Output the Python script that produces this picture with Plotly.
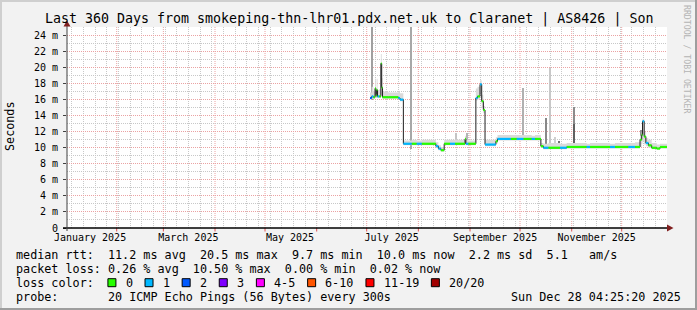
import plotly.graph_objects as go
import pandas as pd

# ---------------- data ----------------
TITLE = "Last 360 Days from smokeping-thn-lhr01.pdx.net.uk to Claranet | AS8426 | Son"
Y_TITLE = "Seconds"
SIDE_TEXT = "RRDTOOL / TOBI OETIKER"
START = "2025-01-02 04:25:20"
END = "2025-12-28 04:25:20"
Y_MAX = 25.05

MONTH_LABEL_DATES = ["2025-01-16", "2025-03-16", "2025-05-16", "2025-07-16", "2025-09-16", "2025-11-16"]
MONTH_LABELS = ["January 2025", "March 2025", "May 2025", "July 2025", "September 2025", "November 2025"]
MONTH_STARTS = ["2025-02-01", "2025-03-01", "2025-04-01", "2025-05-01", "2025-06-01", "2025-07-01",
                "2025-08-01", "2025-09-01", "2025-10-01", "2025-11-01", "2025-12-01"]
Y_TICKS = [0, 2, 4, 6, 8, 10, 12, 14, 16, 18, 20, 22, 24]
Y_TICK_TEXT = ["0", "2 m", "4 m", "6 m", "8 m", "10 m", "12 m", "14 m", "16 m", "18 m", "20 m", "22 m", "24 m"]
Y_MINOR = [1, 3, 5, 7, 9, 11, 13, 15, 17, 19, 21, 23, 25]

# median rtt (ms) step points, loss bucket index, smoke band (ms)
MED_TIMES = [
    "2025-07-03 00:00", "2025-07-04 00:00", "2025-07-05 00:00", "2025-07-06 00:00", "2025-07-06 12:00",
    "2025-07-07 00:00", "2025-07-07 12:00", "2025-07-08 12:00", "2025-07-09 12:00", "2025-07-10 00:00",
    "2025-07-10 12:00", "2025-07-14 00:00", "2025-07-20 00:00", "2025-07-21 00:00", "2025-07-23 00:00",
    "2025-07-28 00:00", "2025-07-31 00:00", "2025-08-03 00:00", "2025-08-11 12:00", "2025-08-13 00:00",
    "2025-08-14 12:00", "2025-08-16 12:00", "2025-08-20 00:00", "2025-08-23 00:00", "2025-08-29 00:00",
    "2025-08-29 12:00", "2025-08-31 00:00", "2025-09-04 12:00", "2025-09-05 12:00", "2025-09-07 00:00",
    "2025-09-08 00:00", "2025-09-09 00:00", "2025-09-10 00:00", "2025-09-16 12:00", "2025-09-17 12:00",
    "2025-09-25 12:00", "2025-09-29 00:00", "2025-10-03 00:00", "2025-10-08 00:00", "2025-10-10 00:00",
    "2025-10-13 12:00", "2025-10-15 00:00", "2025-10-18 00:00", "2025-10-25 00:00", "2025-10-29 00:00",
    "2025-11-10 00:00", "2025-11-12 00:00", "2025-11-24 00:00", "2025-11-27 00:00", "2025-12-05 00:00",
    "2025-12-09 00:00", "2025-12-12 00:00", "2025-12-13 00:00", "2025-12-13 12:00", "2025-12-14 12:00",
    "2025-12-15 12:00", "2025-12-17 00:00", "2025-12-19 00:00", "2025-12-22 00:00", "2025-12-24 00:00",
    "2025-12-28 04:25",
]
MED_VALUES = [
    16.2, 16.4, 16.3, 17.4, 16.5,
    17.2, 16.4, 16.4, 20.5, 17.5,
    16.3, 16.3, 16.2, 16.0, 10.5,
    10.5, 10.5, 10.5, 10.2, 9.9,
    9.7, 10.5, 10.5, 10.5, 11.1,
    10.5, 10.5, 16.2, 16.4, 17.9,
    15.8, 14.7, 10.4, 10.8, 11.1,
    11.1, 11.1, 11.1, 11.1, 11.1,
    10.2, 10.0, 10.0, 10.0, 10.1,
    10.1, 10.1, 10.1, 10.1, 10.1,
    10.1, 11.0, 11.6, 13.3, 11.4,
    10.6, 10.3, 10.0, 9.9, 10.1,
    10.0,
]
MED_LOSS = [
    2, 1, 0, 0, 0,
    0, 1, 0, 0, 0,
    0, 0, 1, 1, 1,
    0, 1, 0, 1, 1,
    0, 0, 1, 0, 0,
    1, 0, 1, 0, 1,
    0, 0, 1, 0, 1,
    0, 1, 0, 1, 0,
    0, 1, 0, 1, 0,
    1, 0, 1, 0, 1,
    0, 0, 0, 1, 0,
    1, 0, 0, 0, 0,
    0,
]
SMOKE_LO = [
    16.0, 16.1, 16.1, 16.2, 16.2,
    16.2, 16.2, 16.2, 16.6, 16.5,
    16.1, 16.1, 16.0, 15.8, 10.3,
    10.3, 10.3, 10.3, 10.0, 9.7,
    9.5, 10.3, 10.3, 10.3, 10.4,
    10.3, 10.3, 15.9, 16.0, 16.8,
    15.0, 14.3, 10.2, 10.5, 10.9,
    10.9, 10.9, 10.9, 10.9, 10.9,
    10.0, 9.8, 9.8, 9.8, 9.9,
    9.9, 9.9, 9.9, 9.9, 9.9,
    9.9, 10.1, 10.5, 10.8, 10.4,
    10.2, 10.0, 9.8, 9.8, 9.9,
    9.9,
]
SMOKE_HI = [
    16.9, 17.6, 17.0, 18.6, 17.4,
    18.6, 17.2, 17.3, 21.7, 18.7,
    17.0, 16.9, 17.0, 16.8, 10.9,
    11.0, 10.9, 11.0, 10.7, 10.3,
    10.1, 11.0, 11.0, 11.0, 11.5,
    11.0, 10.9, 17.4, 17.6, 18.4,
    16.6, 15.2, 11.0, 11.3, 11.6,
    11.6, 11.6, 11.6, 11.5, 11.6,
    10.6, 10.5, 10.6, 10.5, 10.6,
    10.5, 10.6, 10.5, 10.6, 10.6,
    10.7, 11.5, 12.0, 13.6, 12.0,
    11.2, 11.0, 10.6, 10.4, 10.5,
    10.4,
]

# isolated smoke spikes (ms)
SPIKE_TIMES = ["2025-07-04 04:00", "2025-07-27 14:00", "2025-08-23 14:00", "2025-08-30 00:00",
               "2025-10-02 14:00", "2025-10-16 14:00", "2025-10-19 00:00", "2025-10-22 00:00",
               "2025-10-24 14:00", "2025-11-02 14:00", "2025-11-02 14:00", "2025-12-12 12:00"]
SPIKE_LO = [16.0, 9.9, 10.5, 10.5, 11.1, 10.0, 10.0, 10.0, 10.0, 10.0, 10.0, 10.5]
SPIKE_HI = [25.05, 25.05, 11.9, 11.9, 17.5, 13.7, 19.9, 11.4, 10.9, 15.1, 13.0, 12.2]

LOSS_LABELS = ["0", "1", "2", "3", "4-5", "6-10", "11-19", "20/20"]

STAT_RTT = "median rtt:  11.2 ms avg  20.5 ms max  9.7 ms min  10.0 ms now  2.2 ms sd  5.1   am/s"
STAT_LOSS = "packet loss: 0.26 % avg  10.50 % max  0.00 % min  0.02 % now"
STAT_LOSSCOL = "loss color:"
STAT_PROBE = "probe:       20 ICMP Echo Pings (56 Bytes) every 300s"
STAT_DATE = "Sun Dec 28 04:25:20 2025"

# ---------------- styles ----------------
LOSS_COLORS = ["#26ff00", "#00b8ff", "#0059ff", "#7e00ff", "#ff00ff", "#ff5500", "#ff0000", "#a10000"]
SPIKE_SHADES = ["#a0a0a0", "#a8a8a8", "#c4c4c4", "#b4b4b4", "#b0b0b0", "#888888", "#c8c8c8",
                "#d0d0d0", "#707070", "#8c8c8c", "#606060", "#909090"]
SPIKE_PX = [1, 1, 1, 1, 2, 1, 2, 1, 1, 2, 1, 2]
FONT = "DejaVu Sans Mono"
GRID = "#c8c8c8"
MGRID = "#eba3a3"
ARROW = "#801f1f"

W, H = 697, 310
L, R, T, B = 67, 667, 27, 228
MS_PER_PX = 0.6 * 86400000


def px(x):
    return (x - L) / (R - L)


def py(y):
    return (B - y) / (B - T)


def nb(s):
    return s.replace(" ", "\u00a0")


fig = go.Figure()

# smoke band
fig.add_trace(go.Scatter(x=MED_TIMES, y=SMOKE_LO, mode="lines", line=dict(width=0, shape="hv"),
                         hoverinfo="skip"))
fig.add_trace(go.Scatter(x=MED_TIMES, y=SMOKE_HI, mode="lines", line=dict(width=0, shape="hv"),
                         fill="tonexty", fillcolor="#dadada", hoverinfo="skip"))
# spikes
fig.add_trace(go.Bar(x=SPIKE_TIMES, y=[h - l for h, l in zip(SPIKE_HI, SPIKE_LO)], base=SPIKE_LO,
                     width=[w * MS_PER_PX for w in SPIKE_PX],
                     marker=dict(color=SPIKE_SHADES, line=dict(width=0)), hoverinfo="skip"))
# thin median line
fig.add_trace(go.Scatter(x=MED_TIMES, y=MED_VALUES, mode="lines",
                         line=dict(color="#202020", width=1, shape="hv"), hoverinfo="skip"))
# coloured median by loss bucket
for b, col in enumerate(LOSS_COLORS):
    xs, ys = [], []
    for i in range(len(MED_TIMES) - 1):
        if MED_LOSS[i] == b:
            xs += [MED_TIMES[i], MED_TIMES[i + 1], None]
            ys += [MED_VALUES[i], MED_VALUES[i], None]
    if xs:
        fig.add_trace(go.Scatter(x=xs, y=ys, mode="lines", line=dict(color=col, width=2.2),
                                 connectgaps=False, hoverinfo="skip"))

shapes = []
# monthly red grid + ticks
for m in MONTH_STARTS:
    shapes.append(dict(type="line", xref="x", yref="paper", x0=m, x1=m, y0=0, y1=1,
                       line=dict(color=MGRID, width=1, dash="1px,1px"), layer="below"))
    shapes.append(dict(type="line", xref="x", yref="paper", x0=m, x1=m, y0=py(231.5), y1=py(228),
                       line=dict(color="#e05050", width=1)))
# axes
shapes.append(dict(type="line", xref="paper", yref="paper", x0=px(63), x1=px(669), y0=py(228), y1=py(228),
                   line=dict(color="#000000", width=1.5)))
shapes.append(dict(type="line", xref="paper", yref="paper", x0=px(67), x1=px(67), y0=py(231), y1=py(24),
                   line=dict(color="#404040", width=1)))
# arrows
shapes.append(dict(type="path", xref="paper", yref="paper",
                   path=f"M {px(63.5)} {py(26.5)} L {px(70.5)} {py(26.5)} L {px(67)} {py(20.5)} Z",
                   fillcolor=ARROW, line=dict(width=0)))
shapes.append(dict(type="path", xref="paper", yref="paper",
                   path=f"M {px(667)} {py(224.5)} L {px(667)} {py(231.5)} L {px(673.5)} {py(228)} Z",
                   fillcolor=ARROW, line=dict(width=0)))
# 3D border
shapes.append(dict(type="rect", xref="paper", yref="paper", x0=px(0), x1=px(697), y0=py(0), y1=py(2),
                   fillcolor="#cfcfcf", line=dict(width=0)))
shapes.append(dict(type="rect", xref="paper", yref="paper", x0=px(0), x1=px(2), y0=py(0), y1=py(310),
                   fillcolor="#cfcfcf", line=dict(width=0)))
shapes.append(dict(type="rect", xref="paper", yref="paper", x0=px(0), x1=px(697), y0=py(308), y1=py(310),
                   fillcolor="#9e9e9e", line=dict(width=0)))
shapes.append(dict(type="rect", xref="paper", yref="paper", x0=px(695), x1=px(697), y0=py(0), y1=py(310),
                   fillcolor="#9e9e9e", line=dict(width=0)))

# legend text rows
CW = 7.07
X0 = 16
ROWS = [254.5, 268.7, 282.7, 296.9]
annotations = []


def txt(x, y, s, size=11.75, anchor="left", color="#000000", angle=0, yanchor="middle"):
    annotations.append(dict(x=px(x), y=py(y), xref="paper", yref="paper", text=nb(s), showarrow=False,
                            xanchor=anchor, yanchor=yanchor, borderpad=0, borderwidth=0, textangle=angle,
                            font=dict(family=FONT, size=size, color=color)))


txt(348.5, 19, TITLE, size=13.3, anchor="center")
txt(10, 126, Y_TITLE, size=11.75, anchor="center", angle=-90)
txt(687, 59, SIDE_TEXT, size=8.2, anchor="center", color="#b4b4b4", angle=90)
txt(X0, ROWS[0], STAT_RTT)
txt(X0, ROWS[1], STAT_LOSS)
txt(X0, ROWS[2], STAT_LOSSCOL)
txt(X0, ROWS[3], STAT_PROBE)
txt(681, ROWS[3], STAT_DATE, anchor="right")

bx = X0 + 13 * CW
for lab, col in zip(LOSS_LABELS, LOSS_COLORS):
    shapes.append(dict(type="rect", xref="paper", yref="paper", x0=px(bx), x1=px(bx + 8),
                       y0=py(ROWS[2] + 4), y1=py(ROWS[2] - 4), fillcolor=col,
                       line=dict(color="#000000", width=1)))
    txt(bx + 2.5 * CW, ROWS[2], lab)
    bx += (4.25 + len(lab)) * CW

fig.update_layout(
    width=W, height=H, margin=dict(l=L, r=W - R, t=T, b=H - B, pad=0),
    paper_bgcolor="#f2f2f2", plot_bgcolor="#ffffff", showlegend=False, bargap=0,
    font=dict(family=FONT, size=10, color="#000000"),
    shapes=shapes, annotations=annotations,
)
fig.update_xaxes(type="date", range=[START, END], tickmode="array", tickvals=MONTH_LABEL_DATES,
                 ticktext=MONTH_LABELS, ticks="", showgrid=False, showline=False, zeroline=False,
                 tickfont=dict(family=FONT, size=10, color="#000000"), ticklabelstandoff=2,
                 minor=dict(tickmode="array", tickvals=list(pd.date_range("2025-01-05", "2025-12-28", freq="7D")),
                            showgrid=True, gridcolor=GRID, griddash="1px,1px", gridwidth=1, ticks=""))
fig.update_yaxes(range=[0, Y_MAX], tickmode="array", tickvals=Y_TICKS, ticktext=Y_TICK_TEXT,
                 showgrid=True, gridcolor=MGRID, griddash="1px,1px", gridwidth=1, ticks="outside",
                 ticklen=3, tickcolor="#404040", showline=False, zeroline=False,
                 tickfont=dict(family=FONT, size=10, color="#000000"), ticklabelstandoff=3,
                 minor=dict(tickmode="array", tickvals=Y_MINOR, showgrid=True, gridcolor=GRID,
                            griddash="1px,1px", gridwidth=1, ticks=""))

fig.write_html("out.html")
